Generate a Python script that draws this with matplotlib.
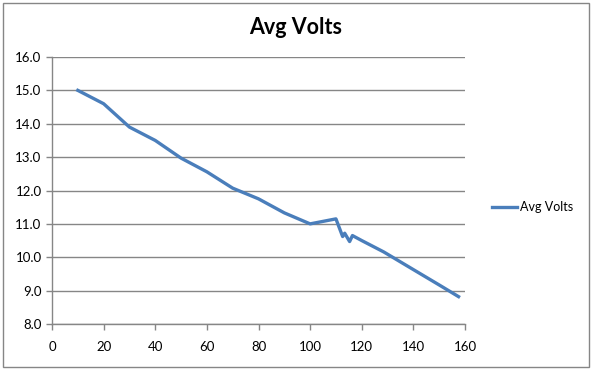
'''
Avg Volts line chart
'''

#libraries
import matplotlib
matplotlib.use('Agg')
import matplotlib.pyplot as plt
from matplotlib.patches import Rectangle
##########

#data
x_vals = [10, 20, 30, 40, 50, 60, 70, 80, 90, 100, 110, 112.6, 113.4, 115.3, 116.4, 120, 128.5, 140, 150, 157.5]
volts = [15.0, 14.6, 13.9, 13.5, 12.97, 12.56, 12.07, 11.75, 11.33, 11.0, 11.15, 10.62, 10.72, 10.47, 10.65, 10.5, 10.16, 9.63, 9.17, 8.82]
x_ticks = [0, 20, 40, 60, 80, 100, 120, 140, 160]
y_ticks = [8.0, 9.0, 10.0, 11.0, 12.0, 13.0, 14.0, 15.0, 16.0]
##########

LINE_COLOR = '#4a7ebb'
GRID_COLOR = '#868686'

plt.rcParams['font.family'] = ['Lato', 'DejaVu Sans']

fig = plt.figure(figsize=(5.92, 3.70), dpi=100)
W, H = 592, 370
ax = fig.add_axes([52 / W, 1 - 324 / H, (465 - 52) / W, (324 - 57) / H])

ax.plot(x_vals, volts, color=LINE_COLOR, lw=2.4, label='Avg Volts', solid_joinstyle='round')

ax.set_xlim(0, 160)
ax.set_ylim(8, 16)
ax.set_xticks(x_ticks)
ax.set_yticks(y_ticks)
ax.set_yticklabels(['%.1f' % v for v in y_ticks])
ax.grid(axis='y', color=GRID_COLOR, lw=1)
ax.set_axisbelow(True)

for side in ['top', 'right']:
    ax.spines[side].set_visible(False)
for side in ['left', 'bottom']:
    ax.spines[side].set_color(GRID_COLOR)
    ax.spines[side].set_linewidth(1)
ax.tick_params(axis='both', colors=GRID_COLOR, length=4, width=1, labelsize=9.5, labelcolor='black', direction='out')
ax.tick_params(axis='x', pad=8)

fig.text(296 / W, 1 - 28 / H, 'Avg Volts', ha='center', va='center', fontsize=15.5, fontweight='bold')

ax.legend(loc='center left', bbox_to_anchor=(492 / W, 1 - 207 / H), bbox_transform=fig.transFigure,
          frameon=False, fontsize=9, handlelength=2.0, handletextpad=0.2, borderpad=0, borderaxespad=0)

#chart border
fig.patches.append(Rectangle((3 / W, 3 / H), (589 - 3) / W, (367 - 3) / H, transform=fig.transFigure,
                             fill=False, edgecolor=GRID_COLOR, lw=1))

fig.savefig('out.png', dpi=100)
